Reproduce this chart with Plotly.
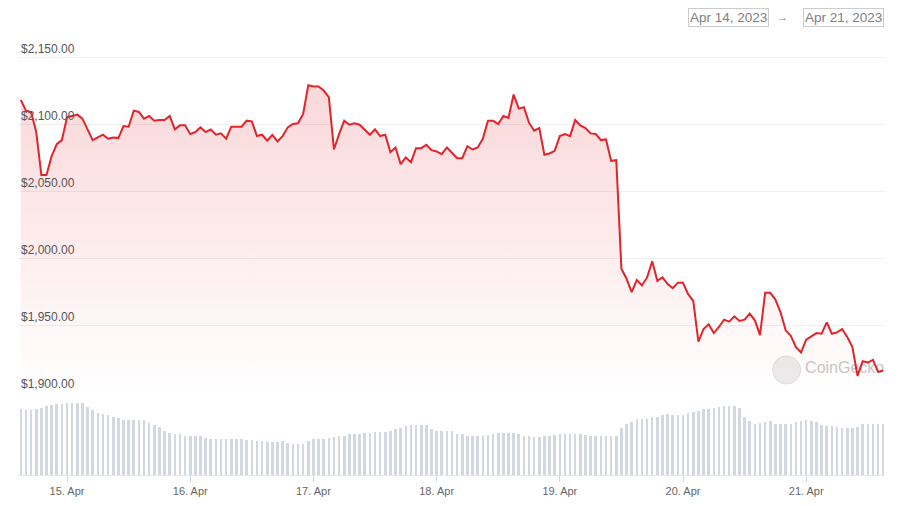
import pandas as pd
import plotly.graph_objects as go

# hourly ETH price, Apr 14 15:00 -> Apr 21 15:00
start_time = "2023-04-14 15:00"
price_usd = [
    2118, 2110, 2109, 2094, 2062, 2062, 2076, 2085, 2088, 2105,
    2106, 2107, 2104, 2096, 2088, 2090, 2092, 2089, 2090, 2089.5,
    2098.5, 2098, 2110, 2109, 2104, 2106, 2102.5, 2103, 2103, 2106,
    2096, 2099, 2099, 2092.5, 2094, 2097.5, 2094, 2096, 2092, 2093,
    2089, 2098, 2098, 2098, 2102.5, 2102, 2091, 2092, 2087.5, 2092,
    2087, 2091, 2097.5, 2100, 2100.5, 2107.5, 2129, 2128, 2128, 2125,
    2120, 2081, 2092.5, 2102.5, 2099.5, 2100.5, 2099.5, 2096, 2092, 2096,
    2091, 2092, 2079, 2082.5, 2070, 2075, 2071.5, 2082, 2082, 2084.5,
    2080.5, 2079.5, 2077.5, 2082.5, 2078.5, 2074.5, 2074.5, 2083.5, 2081, 2082.5,
    2089, 2102.5, 2102.5, 2100, 2106, 2104.5, 2122, 2111.5, 2112.5, 2101,
    2095, 2097, 2077, 2078, 2080, 2091, 2092.5, 2091, 2103, 2099,
    2097, 2093, 2092.5, 2088, 2088.5, 2072.5, 2073, 1992, 1984.5, 1974.5,
    1983.5, 1979.5, 1985.5, 1997.5, 1983, 1985.5, 1980.5, 1977.5, 1981.5, 1981.5,
    1973, 1968, 1937.5, 1947, 1950.5, 1944, 1948.5, 1954, 1952.5, 1956.5,
    1953, 1954, 1958.5, 1953.5, 1942.5, 1974, 1974, 1969, 1959.5, 1946,
    1942, 1933.5, 1929.5, 1939, 1941.5, 1944, 1943.5, 1952, 1943.5, 1944.5,
    1947, 1941, 1933.5, 1912, 1923, 1922, 1924, 1915, 1916,
]

# 24h volume (billions USD), same hours
volume_bn = [
    13.1, 12.9, 12.9, 13.1, 13.4, 13.8, 14.0, 14.1, 14.1, 14.4,
    14.4, 14.4, 14.4, 13.6, 12.9, 12.4, 12.1, 11.9, 11.6, 11.3,
    11.0, 10.9, 10.9, 10.9, 10.9, 10.4, 9.9, 9.6, 8.8, 8.4,
    8.2, 8.1, 7.8, 7.8, 7.8, 7.8, 7.4, 7.1, 7.2, 7.1,
    7.1, 7.1, 7.1, 7.1, 6.9, 6.9, 6.8, 6.8, 6.6, 6.6,
    6.6, 6.8, 6.4, 6.1, 6.1, 6.1, 6.7, 7.1, 7.1, 7.1,
    7.3, 7.6, 7.8, 7.8, 8.1, 8.1, 8.1, 8.3, 8.4, 8.6,
    8.6, 8.6, 8.8, 9.1, 9.4, 9.8, 9.9, 9.9, 9.9, 9.9,
    9.2, 8.8, 8.8, 8.8, 8.8, 8.1, 8.1, 7.8, 7.8, 7.8,
    7.8, 8.0, 8.1, 8.3, 8.3, 8.3, 8.3, 8.1, 7.8, 7.8,
    7.6, 7.6, 7.8, 7.8, 7.9, 8.1, 8.1, 8.1, 8.1, 8.1,
    7.9, 7.8, 7.8, 7.8, 7.8, 7.8, 7.8, 9.4, 10.1, 10.6,
    11.1, 11.1, 11.2, 11.6, 11.6, 11.9, 12.1, 11.9, 11.9, 11.9,
    12.3, 12.6, 12.8, 13.1, 13.1, 13.3, 13.6, 13.8, 13.8, 13.8,
    13.4, 11.6, 10.8, 10.2, 10.4, 10.6, 10.8, 10.2, 10.1, 10.1,
    10.1, 10.6, 10.8, 11.0, 10.8, 10.6, 10.0, 9.8, 9.8, 9.6,
    9.4, 9.3, 9.3, 9.6, 10.2, 10.2, 10.2, 10.2, 10.2,
]

price_ticks = [1900, 1950, 2000, 2050, 2100, 2150]
day_ticks = ["2023-04-15", "2023-04-16", "2023-04-17", "2023-04-18",
             "2023-04-19", "2023-04-20", "2023-04-21"]
date_from = "Apr 14, 2023"
date_to = "Apr 21, 2023"
watermark = "CoinGecko"

times = pd.date_range(start_time, periods=len(price_usd), freq="h")

RED = "#e0252b"
FONT = "Liberation Sans, Arial, sans-serif"

fig = go.Figure()

# watermark text sits under the line
fig.add_trace(go.Scatter(
    x=[pd.Timestamp("2023-04-21 07:30")], y=[1917], mode="text", text=[watermark],
    textfont=dict(size=16, color="#c6c6c6", family=FONT),
    xaxis="x", yaxis="y", showlegend=False, hoverinfo="skip",
))

# price line with faded red fill
fig.add_trace(go.Scatter(
    x=times, y=price_usd, mode="lines",
    line=dict(color=RED, width=2),
    fill="tozeroy",
    fillgradient=dict(type="vertical", start=1900, stop=2130,
                      colorscale=[[0, "rgba(234,57,67,0)"], [1, "rgba(234,57,67,0.2)"]]),
    xaxis="x", yaxis="y", showlegend=False, hoverinfo="skip",
))

# volume bars
fig.add_trace(go.Bar(
    x=times, y=volume_bn, width=1_800_000,
    marker=dict(color="#d3d7e0", line=dict(width=0)),
    xaxis="x2", yaxis="y2", showlegend=False, hoverinfo="skip",
))

x_range = ["2023-04-14 14:27", "2023-04-21 15:21"]

# page body has an 8px margin, so the figure is drawn 8px smaller and shifted
fig.update_layout(
    width=892, height=498,
    margin=dict(l=10, r=15, t=32, b=31),
    paper_bgcolor="white", plot_bgcolor="white",
    font=dict(family=FONT, size=12, color="#666666"),
    bargap=0,
    xaxis=dict(range=x_range, anchor="y", showticklabels=False, showgrid=False,
               zeroline=False, showline=False, ticks=""),
    yaxis=dict(domain=[0.1908, 1], range=[1900, 2162.7], tickvals=price_ticks,
               ticktext=[f"${v:,.2f}" for v in price_ticks],
               ticklabelposition="inside top",
               showgrid=True, gridcolor="#f0f0f0", gridwidth=1, zeroline=False,
               tickfont=dict(size=12, color="#555555"), fixedrange=True),
    xaxis2=dict(range=x_range, anchor="y2", matches="x", tickvals=day_ticks,
                tickformat="%-d. %b", showgrid=False, zeroline=False,
                showline=True, linecolor="#e6e6e6", linewidth=1,
                ticks="outside", ticklen=6, tickcolor="#ccd6eb",
                tickfont=dict(size=11, color="#666666")),
    yaxis2=dict(domain=[0, 0.1838], range=[0, 16], showticklabels=False,
                showgrid=False, zeroline=False),
)

# CoinGecko logo circle
fig.add_shape(type="circle", xref="paper", yref="paper",
              x0=0.8704, x1=0.9027, y0=0.2092, y1=0.2736,
              fillcolor="#ebebeb", line=dict(color="#dedede", width=1), layer="below")

# date range boxes
for label, xpos in [(date_from, 0.820), (date_to, 0.9516)]:
    fig.add_annotation(text=label, xref="paper", yref="paper", x=xpos, y=1.052,
                       xanchor="center", yanchor="middle", showarrow=False,
                       font=dict(size=13.5, color="#808080", family=FONT),
                       bordercolor="#cccccc", borderwidth=1, borderpad=1, bgcolor="white")
fig.add_annotation(text="→", xref="paper", yref="paper", x=0.8815, y=1.052,
                   xanchor="center", yanchor="middle", showarrow=False,
                   font=dict(size=11, color="#808080", family=FONT))

fig.write_html("out.html")
